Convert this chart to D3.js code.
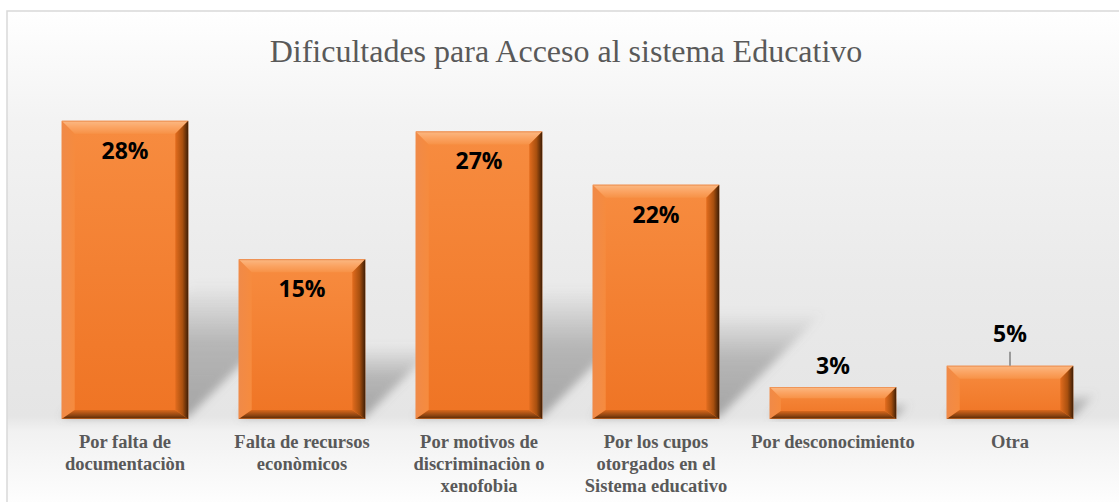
<!DOCTYPE html>
<html>
<head>
<meta charset="utf-8">
<script src="https://cdn.jsdelivr.net/npm/d3@7"></script>
<style>
  html, body { margin: 0; padding: 0; background: #fff; }
  svg { display: block; }
</style>
</head>
<body>
<div id="chart"></div>
<script>
// data
var categories = ["doc", "rec", "disc", "cupos", "desc", "otra"];
var tickLines = [
    ["Por falta de", "documentaciòn"],
    ["Falta de recursos", "econòmicos"],
    ["Por motivos de", "discriminaciòn o", "xenofobia"],
    ["Por los cupos", "otorgados en el", "Sistema educativo"],
    ["Por desconocimiento"],
    ["Otra"]
];
var values = [28, 15, 27, 22, 3, 5];
var leaderCats = ["otra"];
var title = "Dificultades para Acceso al sistema Educativo";

var width = 1119, height = 502;

var svg = d3.select("#chart").append("svg")
    .attr("width", width)
    .attr("height", height);

var defs = svg.append("defs");

function vGrad(id, stops, horiz) {
    var g = defs.append("linearGradient").attr("id", id)
        .attr("x1", 0).attr("y1", 0)
        .attr("x2", horiz ? 1 : 0).attr("y2", horiz ? 0 : 1);
    stops.forEach(function(s) {
        g.append("stop").attr("offset", s[0]).attr("stop-color", s[1])
            .attr("stop-opacity", s[2] == null ? 1 : s[2]);
    });
    return g;
}

// background of the chart area
var bg = defs.append("linearGradient").attr("id", "bg")
    .attr("gradientUnits", "userSpaceOnUse")
    .attr("x1", 0).attr("y1", 11).attr("x2", 0).attr("y2", 505);
[[0, "#ffffff"], [0.22, "#f3f3f3"], [0.55, "#eaeaea"], [0.82, "#e5e5e5"],
 [0.85, "#f1f1f1"], [1, "#fefefe"]].forEach(function(s) {
    bg.append("stop").attr("offset", s[0]).attr("stop-color", s[1]);
});

vGrad("face", [[0, "#f78c40"], [1, "#ef7424"]]);
vGrad("bevTop", [[0, "#e98646"], [0.12, "#fbb47c"], [0.5, "#fba463"], [1, "#f79247"]]);
vGrad("bevLeft", [[0, "#f08a48"], [1, "#f68b3e"]], true);
vGrad("bevRight", [[0, "#e26c1e"], [0.55, "#a9500f"], [1, "#3e1e06"]], true);
vGrad("bevBottom", [[0, "#d9681c"], [0.6, "#8e4512"], [0.85, "#6a3208"], [1, "#d2702c"]]);
vGrad("shadowFill", [[0, "#7a7a7a", 0], [0.45, "#7a7a7a", 0.45], [1, "#7a7a7a", 0.6]]);

var blur = defs.append("filter").attr("id", "blur")
    .attr("x", "-30%").attr("y", "-30%").attr("width", "160%").attr("height", "160%");
blur.append("feGaussianBlur").attr("stdDeviation", 4);

svg.append("rect")
    .attr("x", 7).attr("y", 11)
    .attr("width", 1130).attr("height", 510)
    .attr("fill", "url(#bg)")
    .attr("stroke", "#d9d9d9")
    .attr("stroke-width", 1.5);

svg.append("text")
    .attr("x", 566)
    .attr("y", 62)
    .attr("text-anchor", "middle")
    .style("font-family", "'Liberation Serif', 'Times New Roman', serif")
    .style("font-size", "32px")
    .style("fill", "#595959")
    .text(title);

var x = d3.scaleBand()
    .domain(categories)
    .range([36.5, 1098.5])
    .paddingInner(0.285)
    .paddingOuter(0.1425);

var y = d3.scaleLinear()
    .domain([0, 30])
    .range([419, 99.5]);

var rows = categories.map(function(c, i) { return { cat: c, val: values[i], lines: tickLines[i] }; });

// perspective shadows
svg.append("g").selectAll("path")
    .data(rows)
    .enter().append("path")
    .attr("filter", "url(#blur)")
    .attr("fill", "url(#shadowFill)")
    .attr("d", function(d) {
        var x0 = x(d.cat), x1 = x0 + x.bandwidth(), y0 = y(0) - 2;
        var hs = (y(0) - y(d.val)) * 0.45, dx = hs;
        return "M" + x0 + "," + y0 + "L" + x1 + "," + y0 +
            "L" + (x1 + dx) + "," + (y0 - hs) + "L" + (x0 + dx) + "," + (y0 - hs) + "Z";
    });

// bevelled bars
var bars = svg.append("g").selectAll("g")
    .data(rows)
    .enter().append("g")
    .attr("transform", function(d) { return "translate(" + x(d.cat) + "," + y(d.val) + ")"; });

bars.each(function(d) {
    var g = d3.select(this);
    var w = x.bandwidth(), h = y(0) - y(d.val);
    var b = Math.min(13, h * 0.35), bb = Math.min(9, h * 0.25);
    g.append("rect").attr("width", w).attr("height", h).attr("fill", "url(#face)");
    g.append("path").attr("fill", "url(#bevLeft)")
        .attr("d", "M0,0L" + b + "," + b + "L" + b + "," + (h - bb) + "L0," + h + "Z");
    g.append("path").attr("fill", "url(#bevTop)")
        .attr("d", "M0,0L" + w + ",0L" + (w - b) + "," + b + "L" + b + "," + b + "Z");
    g.append("path").attr("fill", "url(#bevBottom)")
        .attr("d", "M0," + h + "L" + b + "," + (h - bb) + "L" + (w - b) + "," + (h - bb) + "L" + w + "," + h + "Z");
    g.append("path").attr("fill", "url(#bevRight)")
        .attr("d", "M" + w + ",0L" + w + "," + h + "L" + (w - b) + "," + (h - bb) + "L" + (w - b) + "," + b + "Z");
});

// data labels
var labels = svg.append("g")
    .style("font-family", "'Open Sans', 'Noto Sans', sans-serif")
    .style("font-weight", 700)
    .style("font-size", "23px")
    .attr("text-anchor", "middle")
    .style("fill", "#000");

rows.forEach(function(d) {
    var cx = x(d.cat) + x.bandwidth() / 2;
    var top = y(d.val);
    var ly;
    if (d.val >= 10) {
        ly = top + 38;
    } else if (leaderCats.indexOf(d.cat) >= 0) {
        ly = top - 24;
        labels.append("line")
            .attr("x1", cx).attr("x2", cx)
            .attr("y1", ly + 10).attr("y2", top)
            .attr("stroke", "#808080").attr("stroke-width", 1.5);
    } else {
        ly = top - 13;
    }
    labels.append("text").attr("x", cx).attr("y", ly).text(d.val + "%");
});

// category axis
var axis = svg.append("g")
    .attr("transform", "translate(0," + y(0) + ")")
    .call(d3.axisBottom(x).tickSize(0).tickFormat(""));
axis.select(".domain").remove();

axis.selectAll(".tick").each(function(c, i) {
    var t = d3.select(this).append("text")
        .attr("text-anchor", "middle")
        .attr("y", 29)
        .style("font-family", "'Liberation Serif', 'Times New Roman', serif")
        .style("font-weight", 700)
        .style("font-size", "18.5px")
        .style("fill", "#595959");
    tickLines[i].forEach(function(line, k) {
        t.append("tspan").attr("x", 0).attr("dy", k === 0 ? 0 : 22).text(line);
    });
});
</script>
</body>
</html>
